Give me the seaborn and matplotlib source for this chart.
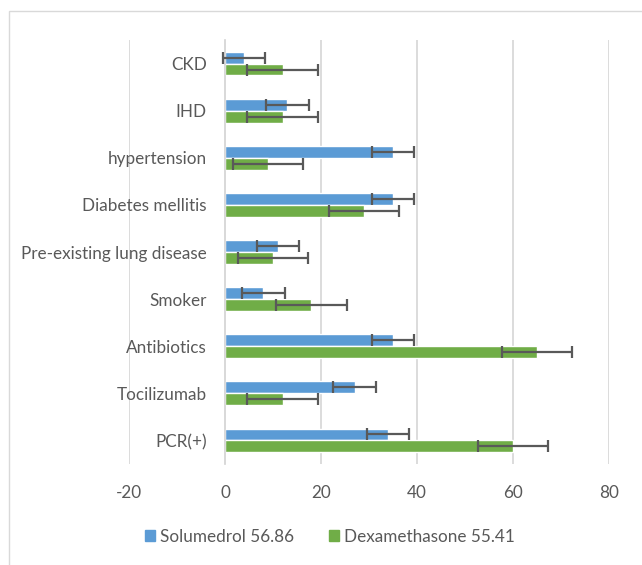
import pandas as pd
import seaborn as sns
import matplotlib.pyplot as plt
from matplotlib.patches import Rectangle

# values
categorias = ['CKD', 'IHD', 'hypertension', 'Diabetes mellitis', 'Pre-existing lung disease',
              'Smoker', 'Antibiotics', 'Tocilizumab', 'PCR(+)']
solumedrol = [4, 13, 35, 35, 11, 8, 35, 27, 34]
dexametasona = [12, 12, 9, 29, 10, 18, 65, 12, 60]
serie_nomes = ['Solumedrol 56.86', 'Dexamethasone 55.41']
erro_solumedrol = 4.4
erro_dexametasona = 7.35
cores = ['#5B9BD5', '#70AD47']

df = pd.DataFrame({
    'categoria': categorias * 2,
    'valor': solumedrol + dexametasona,
    'grupo': [serie_nomes[0]] * len(categorias) + [serie_nomes[1]] * len(categorias),
})

sns.set_style('white')
plt.rcParams['font.family'] = ['Lato', 'DejaVu Sans']
plt.rcParams['axes.unicode_minus'] = False

fig = plt.figure(figsize=(6.42, 5.65), dpi=100)
ax = fig.add_axes([129 / 642, 101 / 565, 480 / 642, 424 / 565])

sns.barplot(data=df, y='categoria', x='valor', hue='grupo', orient='h',
            palette=cores, width=0.506, errorbar=None, ax=ax, legend=False,
            saturation=1)

# barras de erro (valor fixo por serie)
for cont, erro in zip(ax.containers, [erro_solumedrol, erro_dexametasona]):
    for barra in cont:
        y = barra.get_y() + barra.get_height() / 2
        ax.errorbar(barra.get_width(), y, xerr=erro, fmt='none', ecolor='#595959',
                    elinewidth=1.6, capsize=4.3, capthick=1.6, zorder=5)

ax.set_xlim(-20, 80)
ax.set_ylim(len(categorias) - 0.5, -0.5)
ax.set_xticks([-20, 0, 20, 40, 60, 80])
ax.grid(axis='x', color='#D9D9D9', linewidth=1.3)
ax.set_axisbelow(True)
ax.set_xlabel('')
ax.set_ylabel('')

for lado in ['top', 'right', 'bottom']:
    ax.spines[lado].set_visible(False)
ax.spines['left'].set_position(('data', 0))
ax.spines['left'].set_color('#D9D9D9')
ax.spines['left'].set_linewidth(1.3)

ax.tick_params(axis='x', length=0, pad=15, labelsize=12.3, labelcolor='#595959')
ax.tick_params(axis='y', length=0, pad=13, labelsize=12.3, labelcolor='#595959')

handles = [Rectangle((0, 0), 1, 1, color=c) for c in cores]
fig.legend(handles, serie_nomes, loc='center', bbox_to_anchor=(0.514, 0.05), ncol=2,
           frameon=False, handlelength=0.6, handleheight=0.6, handletextpad=0.3,
           columnspacing=2.0, labelcolor='#595959', fontsize=12.3)

# moldura do grafico
fig.patches.append(Rectangle((9 / 642, -0.1), 2, 1.1 - 11.5 / 565, transform=fig.transFigure,
                             fill=False, edgecolor='#D9D9D9', linewidth=1))

plt.savefig('out.png', dpi=100)
